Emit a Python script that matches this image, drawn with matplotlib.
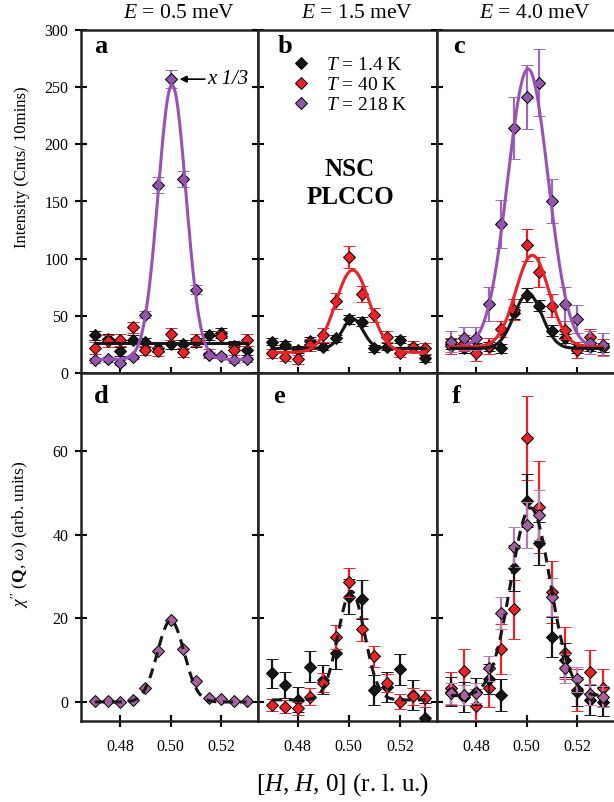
import numpy as np
import matplotlib
matplotlib.use("Agg")
from matplotlib import pyplot as plt
from matplotlib.lines import Line2D

plt.rcParams['font.family'] = ['Liberation Serif', 'DejaVu Serif']
plt.rcParams['mathtext.fontset'] = 'custom'
plt.rcParams['mathtext.rm'] = 'Liberation Serif'
plt.rcParams['mathtext.it'] = 'Liberation Serif:italic'
plt.rcParams['mathtext.bf'] = 'Liberation Serif:bold'

# scan positions along [H, H, 0]
H = [0.470, 0.475, 0.480, 0.485, 0.490, 0.495, 0.500, 0.505, 0.510, 0.515, 0.520, 0.525, 0.530]

# raw intensities (top row)
a_black = [33, 30, 19, 29, 27, 22, 25, 25, 27, 33, 35, 24, 20]
a_black_err = [4, 4, 4, 4, 4, 4, 4, 4, 4, 4, 4, 4, 4]
a_red = [22, 28, 29, 40, 20, 19, 34, 18, 29, 17, 32, 20, 29]
a_red_err = [5, 5, 5, 5, 4, 4, 5, 4, 5, 4, 5, 4, 5]
a_purple = [11, 12, 9, 14, 51, 164, 257, 170, 73, 16, 15, 11, 12]
a_purple_err = [2, 2, 2, 2, 3, 7, 8, 7, 4, 2, 2, 2, 2]

b_black = [27.5, 24.6, 20.2, 28.4, 23.1, 30.4, 47.1, 45.0, 21.6, 23.1, 29.0, 22.5, 12.9]
b_black_err = [3, 3, 3, 3, 3, 3, 4, 4, 3, 3, 3, 3, 3]
b_red = [17.2, 14.3, 12.0, 24.6, 33.3, 63.0, 101.5, 69.3, 50.5, 31.9, 17.8, 23.1, 21.6]
b_red_err = [4, 4, 4, 5, 6, 7, 9.5, 7, 6, 5, 4, 5, 5]

c_black = [25.4, 21.6, 22.5, 23.1, 21.6, 52.5, 68.4, 58.8, 37.1, 30.4, 21.6, 23.1, 22.5]
c_black_err = [4, 4, 4, 4, 4, 5, 6, 5, 5, 4, 4, 4, 4]
c_red = [23.7, 26.0, 17.2, 23.7, 38.3, 55.3, 112.0, 88.3, 58.8, 37.7, 20.2, 31.9, 23.1]
c_red_err = [7, 7, 7, 7, 7, 9, 14, 13, 10, 8, 7, 7, 7]
c_purple = [27.5, 30.4, 30.4, 60.5, 130.7, 214.0, 241.0, 254.0, 150.3, 60.5, 47.1, 26.6, 24.6]
c_purple_err = [9.5, 10, 10, 15, 21, 27, 28, 29, 19, 15, 12, 10, 10]

# chi'' (bottom row)
d_purple = [0.2, 0.2, 0.0, 0.5, 3.3, 12.2, 19.6, 12.8, 5.0, 0.9, 0.6, 0.2, 0.2]

e_black = [6.9, 4.1, 0.5, 8.5, 5.3, 11.7, 25.2, 24.6, 2.9, 3.6, 7.8, 1.7, -3.8]
e_black_err = [3.5, 3.2, 3.0, 3.8, 3.5, 3.8, 4.2, 4.7, 3.5, 3.5, 3.7, 3.5, 3.5]
e_red = [-0.7, -1.1, -1.5, 1.3, 4.6, 15.6, 28.7, 17.4, 10.9, 4.5, 0.1, 1.4, 0.9]
e_red_err = [1.5, 1.5, 1.5, 2.0, 2.3, 2.8, 3.5, 2.8, 2.5, 2.2, 1.8, 2.0, 2.0]

f_black = [2.5, 1.2, 2.5, 5.5, 1.7, 32.0, 48.2, 38.0, 15.6, 10.1, 2.5, 0.5, 0.1]
f_black_err = [3.5, 3.5, 3.2, 3.5, 3.8, 5.5, 6.4, 5.2, 4.8, 4.0, 3.5, 3.5, 3.5]
f_red = [3.3, 7.4, -1.0, 3.3, 12.6, 22.2, 63.2, 46.8, 26.4, 11.7, 2.9, 7.3, 3.4]
f_red_err = [4.0, 5.2, 4.0, 4.6, 6.0, 7.0, 10.0, 11.0, 7.4, 6.2, 5.0, 5.2, 4.4]
f_purple = [2.1, 1.7, 2.1, 8.1, 21.4, 37.2, 42.4, 44.8, 25.2, 8.1, 5.4, 1.9, 1.3]
f_purple_err = [2.5, 2.4, 2.4, 3.0, 3.8, 4.8, 5.4, 6.0, 4.5, 3.5, 3.0, 2.5, 2.5]

# gaussian fits: (background, amplitude, centre, sigma)
fit_a_black = (26, 0, 0.500, 0.005)
fit_a_purple = (12, 240, 0.5005, 0.0055)
fit_b_black = (21.5, 26, 0.5015, 0.0040)
fit_b_red = (18, 72, 0.5015, 0.0066)
fit_c_black = (21.5, 48, 0.5005, 0.0055)
fit_c_red = (23, 80, 0.5022, 0.0066)
fit_c_purple = (22, 244, 0.5005, 0.0080)
fit_d = (0, 19.5, 0.500, 0.0053)
fit_e = (0.5, 26, 0.501, 0.0052)
fit_f = (1.5, 45, 0.5015, 0.0078)

energies = ['0.5', '1.5', '4.0']
temps = ['1.4', '40', '218']

BLACK = '#161616'
RED = '#e8232a'
PURPLE = '#8f58a8'
PURPLE_LINE = '#9a52b2'
PURPLE_ERR = '#9a6ab8'
PINK = '#a6619f'
PINK_ERR = '#b87aae'


def gauss(p, x):
    bg, amp, c, s = p
    return bg + amp * np.exp(-(x - c) ** 2 / (2 * s ** 2))


def points(ax, y, err, color, ecolor, z):
    ax.errorbar(H, y, yerr=err, fmt='D', ms=6, mfc=color, mec='black', mew=0.7,
                ecolor=ecolor, elinewidth=1.6, capsize=4, capthick=1.6, zorder=z)


def fit(ax, p, color, dashed=False):
    xx = np.linspace(0.47, 0.53, 300)
    if dashed:
        ax.plot(xx, gauss(p, xx), color=color, lw=2.2, ls=(0, (3.3, 2.2)), zorder=10)
    else:
        ax.plot(xx, gauss(p, xx), color=color, lw=2.2, zorder=10)


fig = plt.figure(figsize=(6.14, 8.02), dpi=100)

lefts = [81 / 614, 258 / 614, 437 / 614]
widths = [177 / 614, 179 / 614, 177 / 614]
top_row = (1 - 373 / 802, (373 - 30) / 802)
bot_row = (1 - 721 / 802, (721 - 373) / 802)

axes_top = [fig.add_axes([lefts[i], top_row[0], widths[i], top_row[1]]) for i in range(3)]
axes_bot = [fig.add_axes([lefts[i], bot_row[0], widths[i], bot_row[1]]) for i in range(3)]

for i, ax in enumerate(axes_top + axes_bot):
    ax.set_xlim(0.4645, 0.5345)
    ax.set_xticks([0.48, 0.50, 0.52])
    ax.tick_params(direction='inout', length=8, width=1.5, labelsize=11.5, pad=5)
    ax.tick_params(axis='x', pad=9)
    for sp in ax.spines.values():
        sp.set_linewidth(1.8)
        sp.set_color('#222222')
    if i % 3 == 2:
        ax.spines['right'].set_visible(False)

for i, ax in enumerate(axes_top):
    ax.set_ylim(0, 300)
    ax.set_yticks([0, 50, 100, 150, 200, 250, 300])
    ax.tick_params(labelbottom=False, labelleft=(i == 0))
    fig.text(lefts[i] + widths[i] / 2 + 10 / 614, 1 - 13 / 802,
             '$E$ = ' + energies[i] + ' meV', ha='center', va='center', fontsize=15.5)

for i, ax in enumerate(axes_bot):
    ax.set_ylim(-4.55, 78.8)
    ax.set_yticks([0, 20, 40, 60])
    ax.tick_params(labelleft=(i == 0))
    ax.set_xticklabels(['0.48', '0.50', '0.52'])

ax_a, ax_b, ax_c = axes_top
ax_d, ax_e, ax_f = axes_bot

# a
points(ax_a, a_black, a_black_err, BLACK, BLACK, 3)
points(ax_a, a_red, a_red_err, RED, RED, 4)
points(ax_a, a_purple, a_purple_err, PURPLE, PURPLE_ERR, 5)
fit(ax_a, fit_a_black, BLACK)
fit(ax_a, fit_a_purple, PURPLE_LINE)
ax_a.annotate('', xy=(0.5035, a_purple[6]), xytext=(0.5135, a_purple[6]),
              arrowprops=dict(arrowstyle='-|>', color='black', lw=1.2,
                              mutation_scale=10, shrinkA=0, shrinkB=0))
ax_a.text(0.5145, a_purple[6], 'x 1/3', fontsize=15, style='italic',
          ha='left', va='center')

# b
points(ax_b, b_black, b_black_err, BLACK, BLACK, 3)
points(ax_b, b_red, b_red_err, RED, RED, 4)
fit(ax_b, fit_b_black, BLACK)
fit(ax_b, fit_b_red, RED)
handles = [Line2D([], [], ls='none', marker='D', ms=6, mfc=c, mec='black', mew=0.7)
           for c in (BLACK, RED, PURPLE)]
ax_b.legend(handles, ['$T$ = ' + t + ' K' for t in temps], loc='upper left',
            bbox_to_anchor=(0.14, 0.945), frameon=False, fontsize=14,
            handlelength=1.0, handletextpad=0.8, labelspacing=0.12, borderaxespad=0)
ax_b.text(0.5005, 166, 'NSC\nPLCCO', ha='center', va='center', fontsize=18,
          fontweight='bold', linespacing=1.3)

# c
points(ax_c, c_black, c_black_err, BLACK, BLACK, 3)
points(ax_c, c_red, c_red_err, RED, RED, 4)
points(ax_c, c_purple, c_purple_err, PURPLE, PURPLE_ERR, 5)
fit(ax_c, fit_c_purple, PURPLE_LINE)
fit(ax_c, fit_c_red, RED)
fit(ax_c, fit_c_black, BLACK)

# d
ax_d.plot(H, d_purple, 'D', ms=6, mfc=PINK, mec='black', mew=0.7, zorder=5)
fit(ax_d, fit_d, BLACK, dashed=True)

# e
points(ax_e, e_black, e_black_err, BLACK, BLACK, 3)
points(ax_e, e_red, e_red_err, RED, RED, 4)
fit(ax_e, fit_e, BLACK, dashed=True)

# f
points(ax_f, f_red, f_red_err, RED, RED, 3)
points(ax_f, f_black, f_black_err, BLACK, BLACK, 4)
points(ax_f, f_purple, f_purple_err, PINK, PINK_ERR, 5)
fit(ax_f, fit_f, BLACK, dashed=True)

letter_pos = {'a': 0.075, 'b': 0.11, 'c': 0.09, 'd': 0.073, 'e': 0.084, 'f': 0.085}
for ax, letter in zip(axes_top, 'abc'):
    ax.text(letter_pos[letter], 0.985, letter, transform=ax.transAxes, fontsize=19,
            fontweight='bold', va='top', ha='left')
for ax, letter in zip(axes_bot, 'def'):
    ax.text(letter_pos[letter], 0.965, letter, transform=ax.transAxes, fontsize=19,
            fontweight='bold', va='top', ha='left')

fig.text(22 / 614, 1 - 167 / 802, 'Intensity (Cnts/ 10mins)', rotation=90,
         ha='center', va='center', fontsize=12)
fig.text(20 / 614, 1 - 534 / 802, r"$\chi''$ ($\mathbf{Q}$, $\omega$) (arb. units)",
         rotation=90, ha='center', va='center', fontsize=12.5)
fig.text(343 / 614, 1 - 785 / 802, '[$H$, $H$, 0] (r. l. u.)', ha='center',
         va='center', fontsize=18)

fig.savefig('out.png', dpi=100)
